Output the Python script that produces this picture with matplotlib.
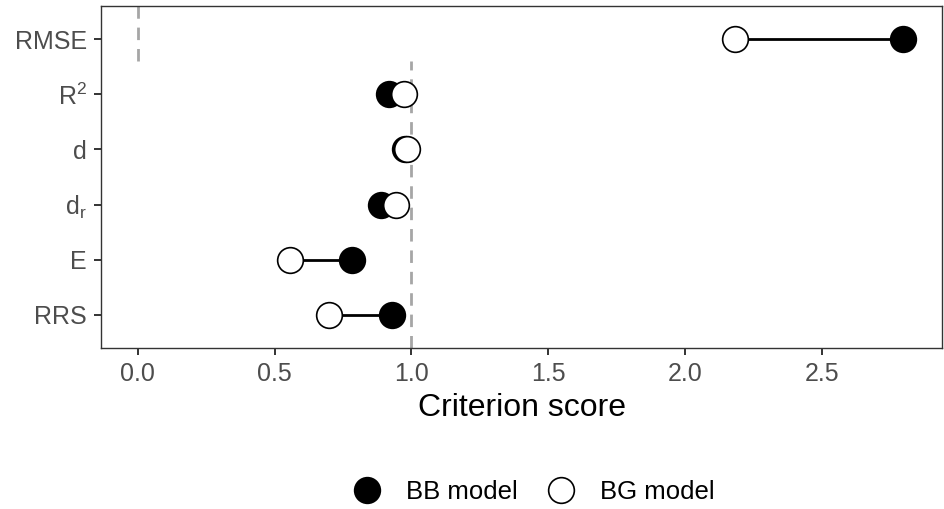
import matplotlib.pyplot as plt
from matplotlib.lines import Line2D

plt.rcParams["font.family"] = ["Liberation Sans", "DejaVu Sans"]
plt.rcParams["mathtext.fontset"] = "custom"
plt.rcParams["mathtext.rm"] = "Liberation Sans"
plt.rcParams["mathtext.it"] = "Liberation Sans:italic"

# Criteria, bottom to top
criteria = ["RRS", "E", "d$_\\mathrm{r}$", "d", "R$^\\mathrm{2}$", "RMSE"]
bb_scores = [0.928, 0.781, 0.888, 0.975, 0.917, 2.797]
bg_scores = [0.697, 0.557, 0.942, 0.985, 0.973, 2.184]

# Reference lines (x value, row span)
ref_x = [0.0, 1.0]
ref_ymin = [5.6, 0.4]
ref_ymax = [6.6, 5.6]

x_ticks = [0.0, 0.5, 1.0, 1.5, 2.0, 2.5]

fig = plt.figure(figsize=(9.44, 5.09), dpi=100)
ax = fig.add_axes([101 / 944, 1 - 348 / 509, 841 / 944, 342 / 509])

rows = list(range(1, len(criteria) + 1))

for xv, y0, y1 in zip(ref_x, ref_ymin, ref_ymax):
    ax.plot([xv, xv], [y0, y1], color="#A6A6A6", lw=2,
            linestyle=(0, (4.5, 3.2)), zorder=1)

for y, a, b in zip(rows, bb_scores, bg_scores):
    ax.plot([a, b], [y, y], color="black", lw=2, zorder=2)

ax.plot(bb_scores, rows, "o", ms=18.5, mfc="black", mec="black", mew=1.2,
        linestyle="none", zorder=3)
ax.plot(bg_scores, rows, "o", ms=18.5, mfc="white", mec="black", mew=1.2,
        linestyle="none", zorder=4)

ax.set_xlim(-0.135, 2.94)
ax.set_ylim(0.4, 6.6)
ax.set_yticks(rows)
ax.set_yticklabels(criteria)
ax.set_xticks(x_ticks)
ax.set_xticklabels([f"{t:.1f}" for t in x_ticks])
ax.tick_params(axis="both", labelsize=18, labelcolor="#4D4D4D",
               color="#333333", width=1.4, length=5, pad=5)
for sp in ax.spines.values():
    sp.set_color("#333333")
    sp.set_linewidth(1.0)

ax.set_xlabel("Criterion score", fontsize=23, color="black", labelpad=5)

handles = [
    Line2D([], [], marker="o", ms=18.5, mfc="black", mec="black", mew=1.2,
           linestyle="none", label="BB model"),
    Line2D([], [], marker="o", ms=18.5, mfc="white", mec="black", mew=1.2,
           linestyle="none", label="BG model"),
]
fig.legend(handles=handles, loc="center", bbox_to_anchor=(533 / 944, 1 - 492 / 509),
           ncol=2, frameon=False, fontsize=18.5, handletextpad=0.9,
           columnspacing=1.1, handlelength=1.2)

fig.savefig("out.png", dpi=100)
